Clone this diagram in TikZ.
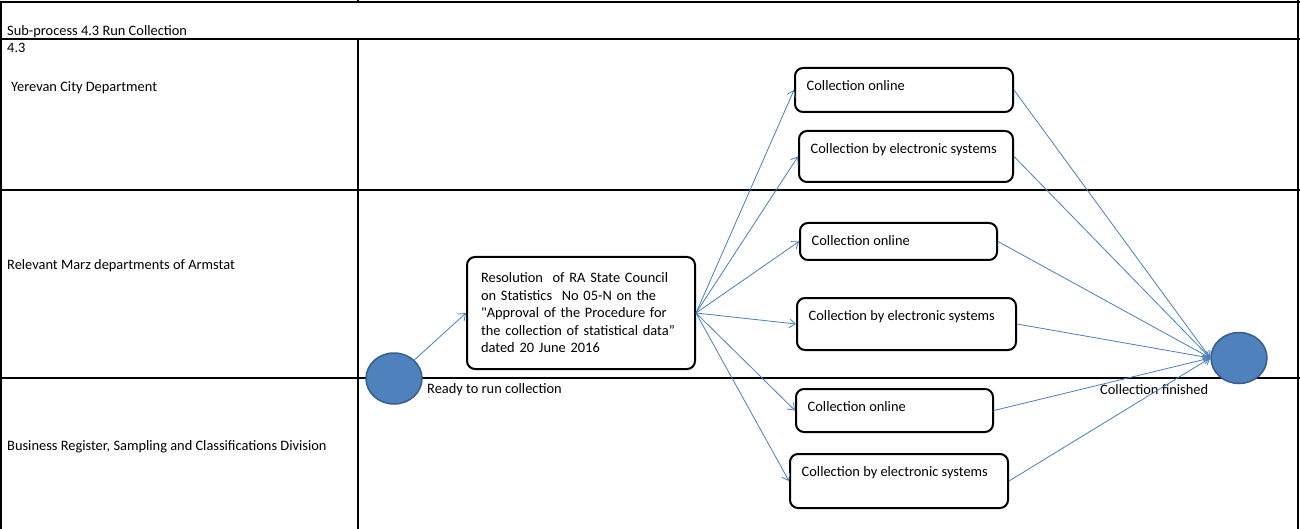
\documentclass[tikz,border=0pt]{standalone}
\usepackage{fontspec}
\setmainfont{Carlito}[Ligatures=TeXOff]
\usetikzlibrary{arrows.meta,positioning,shapes}
\definecolor{flowblue}{RGB}{74,126,187}
\definecolor{evfill}{RGB}{79,129,189}
\definecolor{evline}{RGB}{56,93,138}

\begin{document}
\begin{tikzpicture}[x=1pt,y=-1pt,every node/.style={font=\fontsize{14.4}{17}\selectfont},
        grid/.style={line width=2.5pt},
        lane/.style={anchor=west,inner sep=0pt},
        act/.style={draw,line width=2pt,rounded corners=8pt,inner sep=0pt},
        actlbl/.style={anchor=north west,inner sep=0pt,xshift=12.5pt,yshift=-13pt},
        event/.style={ellipse,draw=evline,line width=1.5pt,fill=evfill,
                      minimum width=56pt,minimum height=51pt,inner sep=0pt},
        flow/.style={draw=flowblue,line width=0.8pt,-{Straight Barb[length=6pt,width=9pt]}}]
      \useasboundingbox (0,0) rectangle (1300,529);
      % swimlane table
      \draw[grid] (0,2) -- (1300,2);
      \draw[grid] (0,39) -- (1300,39);
      \draw[grid] (0,190) -- (1300,190);
      \draw[grid] (0,378) -- (1300,378);
      \draw[grid] (1,2) -- (1,529);
      \draw[grid] (1298,0) -- (1298,529);
      \draw[grid] (358,0) -- (358,2);
      \draw[grid] (358,39) -- (358,529);
      \node[lane] (title) at (7,32)  {Sub-process 4.3 Run Collection};
      \node[lane] (num)   at (7,48)  {4.3};
      \node[lane] (yer)   at (11,88) {Yerevan City Department};
      \node[lane] (marz)  at (7,266) {Relevant Marz departments of Armstat};
      \node[lane] (breg)  at (7,447) {Business Register, Sampling and Classifications Division};
      % events
      \node[event] (start)  at (394,378.5) {};
      \node[lane]  (startlbl) at (427,390) {Ready to run collection};
      \node[event] (finish) at (1239,358) {};
      \node[lane]  (finlbl) at (1100,390) {Collection finished};
      % activities
      \node[act,text width=200pt,inner xsep=14pt,minimum height=112pt,align=left,
            font=\fontsize{14.4}{17.5}\selectfont] (res) at (581,313)
            {Resolution\ \ of RA State Council\\on Statistics\ \ No 05-N on the\\"Approval of the Procedure for\\the collection of statistical data”\\dated 20 June 2016};
      \node[act,minimum width=218pt,minimum height=44pt,
            label={[actlbl]north west:Collection online}] (yon) at (904,90) {};
      \node[act,minimum width=214pt,minimum height=51pt,
            label={[actlbl]north west:Collection by electronic systems}] (yel) at (906,156.5) {};
      \node[act,minimum width=197pt,minimum height=37pt,
            label={[actlbl]north west:Collection online}] (mon) at (898.5,241.5) {};
      \node[act,minimum width=219pt,minimum height=52pt,
            label={[actlbl]north west:Collection by electronic systems}] (mel) at (906.5,324) {};
      \node[act,minimum width=197pt,minimum height=43pt,
            label={[actlbl]north west:Collection online}] (bon) at (894.5,410.5) {};
      \node[act,minimum width=218pt,minimum height=54pt,
            label={[actlbl]north west:Collection by electronic systems}] (bel) at (899,481) {};
      % flows
      \draw[flow] (start) -- (res.west);
      \foreach \b in {yon,yel,mon,mel,bon,bel}{
        \draw[flow] (res.east) -- (\b.west);
        \draw[flow] (\b.east) -- (finish.west);
      }
    \end{tikzpicture}
\end{document}
